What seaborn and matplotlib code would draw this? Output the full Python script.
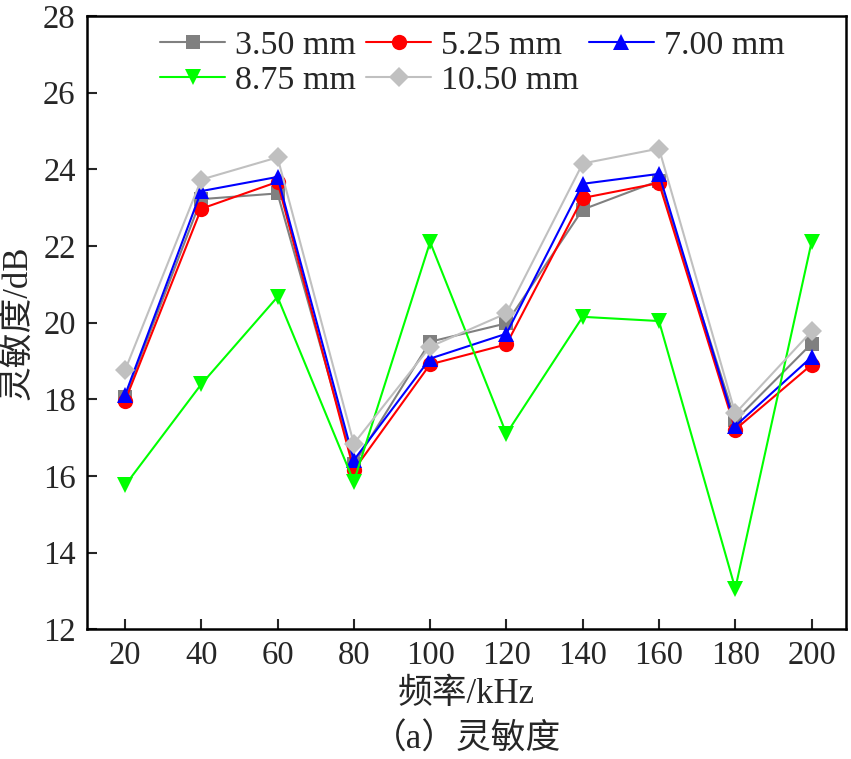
import numpy as np
import pandas as pd
import matplotlib
matplotlib.use("Agg")
import matplotlib.pyplot as plt
import seaborn as sns

freq = [20, 40, 60, 80, 100, 120, 140, 160, 180, 200]
labels = ["3.50 mm", "5.25 mm", "7.00 mm", "8.75 mm", "10.50 mm"]
s350 = [18.05, 23.22, 23.37, 16.30, 19.50, 19.98, 22.95, 23.70, 17.45, 19.45]
s525 = [17.95, 22.97, 23.67, 16.15, 18.91, 19.43, 23.25, 23.64, 17.21, 18.90]
s700 = [18.10, 23.43, 23.80, 16.41, 19.06, 19.71, 23.62, 23.88, 17.30, 19.10]
s875 = [15.75, 18.39, 20.67, 15.85, 22.10, 17.10, 20.15, 20.04, 13.06, 22.10]
s1050 = [18.75, 23.73, 24.31, 16.84, 19.37, 20.24, 24.15, 24.54, 17.63, 19.77]
colors = ["#808080", "#FF0000", "#0000FF", "#00FF00", "#C0C0C0"]
markers = ["s", "o", "^", "v", "D"]
msizes = [10, 11, 11, 11, 10]

series = [s350, s525, s700, s875, s1050]
df = pd.DataFrame({
    "freq": np.tile(freq, len(labels)),
    "val": np.concatenate(series),
    "series": np.repeat(labels, len(freq)),
})

sns.set_theme(style="ticks")
plt.rcParams["font.family"] = ["Liberation Serif", "Noto Sans CJK SC", "DejaVu Sans"]

fig = plt.figure(figsize=(8.51, 7.59), dpi=100)
ax = fig.add_axes([0.102, 0.171, 0.892, 0.808])

handles = []
for lab, c, m, ms in zip(labels, colors, markers, msizes):
    sub = df[df["series"] == lab]
    sns.lineplot(data=sub, x="freq", y="val", color=c, marker=m, markersize=ms,
                 markeredgecolor=c, markeredgewidth=0, linewidth=1.5, ax=ax,
                 label=lab, legend=False)
    handles.append(ax.lines[-1])

ax.set_xlim(10, 209)
ax.set_ylim(12, 28)
ax.set_xticks(freq)
ax.set_yticks(np.arange(12, 29, 2))
ax.tick_params(direction="in", length=7, width=1.5, labelsize=23.5, pad=8)
for sp in ax.spines.values():
    sp.set_linewidth(1.8)
    sp.set_color("black")

ax.set_xlabel("频率/kHz", fontsize=25, labelpad=5)
ax.set_ylabel("灵敏度/dB", fontsize=25, labelpad=6)

order = [0, 3, 1, 4, 2]
leg = ax.legend([handles[i] for i in order], [labels[i] for i in order],
                ncol=3, loc="upper left", bbox_to_anchor=(0.07, 1.01),
                frameon=False, fontsize=24.5, handlelength=1.9,
                handletextpad=0.3, columnspacing=0.3, labelspacing=0.12,
                borderaxespad=0.2)

fig.text(0.548, 0.025, "（a）灵敏度", ha="center", va="center", fontsize=25)

fig.savefig("out.png", dpi=100)
